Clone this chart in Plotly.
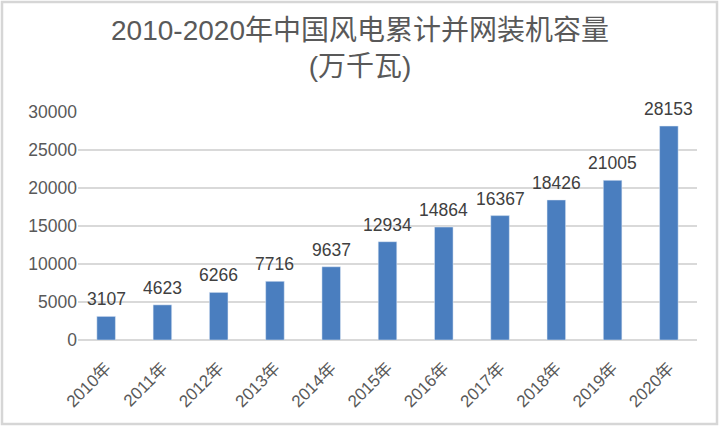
import plotly.graph_objects as go

# Daten
years = ["2010年", "2011年", "2012年", "2013年", "2014年", "2015年",
         "2016年", "2017年", "2018年", "2019年", "2020年"]
capacity = [3107, 4623, 6266, 7716, 9637, 12934, 14864, 16367, 18426, 21005, 28153]
y_ticks = [0, 5000, 10000, 15000, 20000, 25000, 30000]

FONT = "Liberation Sans, Noto Sans CJK SC, sans-serif"
W, H = 720, 426
ml, mr, mt, mb = 78, 23, 112, 86

fig = go.Figure(go.Bar(
    x=years,
    y=capacity,
    marker_color="#4a7ebf",
    width=0.33,
    hoverinfo="x+y",
))

# Wertelabels über den Balken
for yr, val in zip(years, capacity):
    fig.add_annotation(
        x=yr, y=val, text=str(val), showarrow=False,
        xanchor="center", yanchor="bottom", yshift=5,
        font=dict(size=17.5, color="#404040", family=FONT),
    )

pw, ph = W - ml - mr, H - mt - mb
fig.update_layout(
    width=W, height=H,
    margin=dict(l=ml, r=mr, t=mt, b=mb),
    paper_bgcolor="white",
    plot_bgcolor="white",
    showlegend=False,
    title=dict(
        text="2010-2020年中国风电累计并网装机容量<br>(万千瓦)",
        x=0.5, xanchor="center", xref="container",
        y=1 - 40 / H, yanchor="bottom", yref="container",
        font=dict(size=28, color="#595959", family=FONT),
    ),
    yaxis=dict(
        range=[0, 30000], tickvals=y_ticks, tickformat="d",
        showgrid=True, gridcolor="#d9d9d9", gridwidth=1.5,
        zeroline=True, zerolinecolor="#d9d9d9", zerolinewidth=1.5,
        tickfont=dict(size=17.5, color="#595959", family=FONT),
        ticks="", ticklen=0,
    ),
    xaxis=dict(
        tickangle=-45,
        tickfont=dict(size=17, color="#595959", family=FONT),
        showline=False, ticks="", ticklabelstandoff=14,
    ),
    shapes=[dict(
        type="rect", xref="paper", yref="paper",
        x0=-(ml - 2) / pw, x1=1 + (mr - 3) / pw,
        y0=-(mb - 2) / ph, y1=1 + (mt - 2) / ph,
        line=dict(color="#d6d6d6", width=2.5),
    )],
)

# Seitenrand des Browsers entfernen, damit die Grafik bei (0,0) beginnt
fig.write_html("out.html", config={"displayModeBar": False},
               post_script="document.body.style.margin='0';")
